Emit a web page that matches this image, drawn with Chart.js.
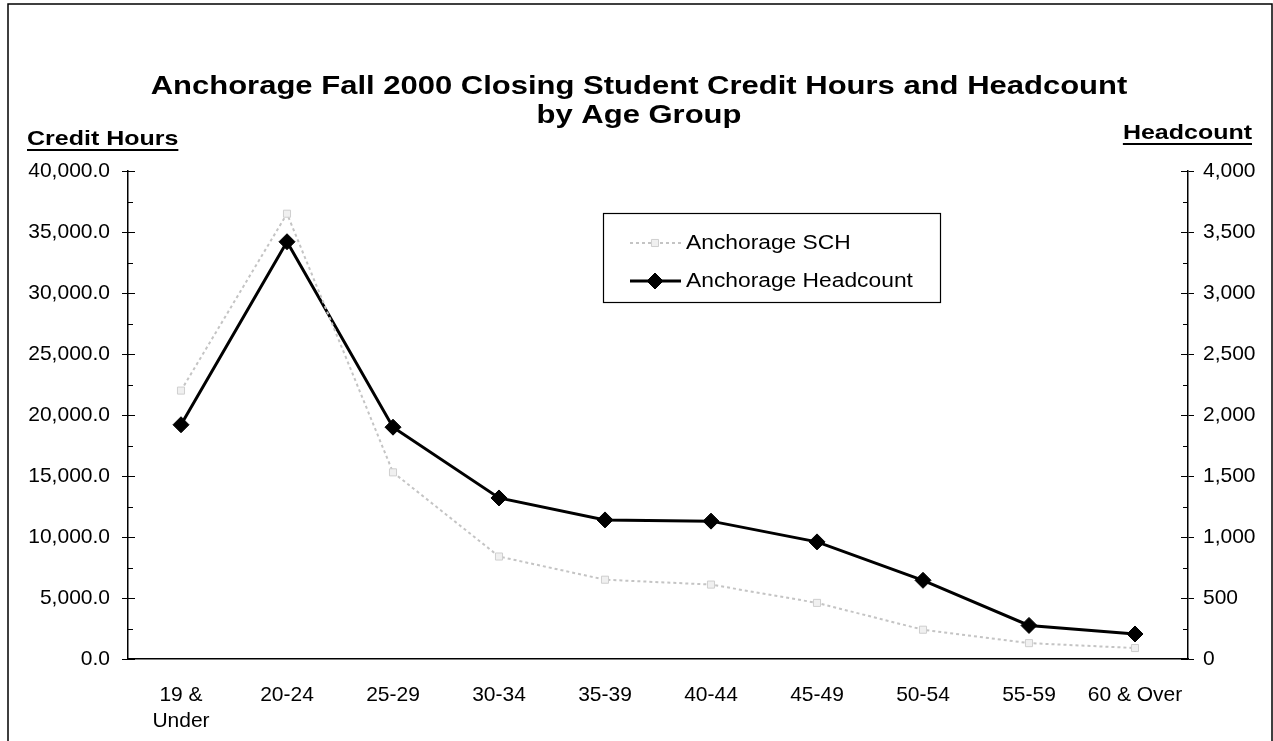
<!DOCTYPE html>
<html>
<head>
<meta charset="utf-8">
<title>Anchorage Fall 2000 Closing SCH and Headcount</title>
<script src="https://cdn.jsdelivr.net/npm/chart.js@4.4.1/dist/chart.umd.min.js"></script>
<style>
  html, body { margin: 0; padding: 0; background: #fff; }
  canvas { display: block; }
</style>
</head>
<body>
<canvas id="ageChart" width="1273" height="741"></canvas>
<script>
// Datos
const grupos = [['19 &', 'Under'], '20-24', '25-29', '30-34', '35-39', '40-44', '45-49', '50-54', '55-59', '60 & Over'];
const creditHours = [22000, 36500, 15300, 8400, 6500, 6100, 4600, 2400, 1300, 900];
const headcount = [1920, 3420, 1900, 1320, 1140, 1130, 960, 645, 275, 205];
const ticksCredit = [0, 5000, 10000, 15000, 20000, 25000, 30000, 35000, 40000];
const ticksHead = [0, 500, 1000, 1500, 2000, 2500, 3000, 3500, 4000];
const titulo = ['Anchorage Fall 2000 Closing Student Credit Hours and Headcount', 'by Age Group'];

const FUENTE = "'Liberation Sans', Arial, sans-serif";

// Texto ensanchado en horizontal (el original está escaneado algo estirado)
function textoAncho(ctx, texto, x, y, sx, align) {
  const w = ctx.measureText(texto).width * sx;
  let x0 = x;
  if (align === 'center') x0 = x - w / 2;
  if (align === 'right') x0 = x - w;
  ctx.save();
  ctx.translate(x0, y);
  ctx.scale(sx, 1);
  ctx.textAlign = 'left';
  ctx.fillText(texto, 0, 0);
  ctx.restore();
  return { x: x0, w: w };
}

// Marco, título, títulos de ejes, marcas menores y leyenda dibujados a mano
const extrasPlugin = {
  id: 'extras',
  afterDraw(chart) {
    const ctx = chart.ctx;
    const area = chart.chartArea;
    const yL = chart.scales.y;
    const yR = chart.scales.y1;
    ctx.save();

    // marco exterior
    ctx.strokeStyle = '#000';
    ctx.lineWidth = 1.5;
    ctx.strokeRect(8, 4, 1264, 745);

    // marcas hacia dentro del área (mayores y menores)
    ctx.lineWidth = 1;
    ctx.beginPath();
    for (let i = 0; i < ticksCredit.length; i++) {
      const y = Math.round(yL.getPixelForValue(ticksCredit[i])) + 0.5;
      ctx.moveTo(area.left, y);
      ctx.lineTo(area.left + 7, y);
      if (i < ticksCredit.length - 1) {
        const ym = Math.round(yL.getPixelForValue(ticksCredit[i] + 2500)) + 0.5;
        ctx.moveTo(area.left, ym);
        ctx.lineTo(area.left + 5, ym);
      }
    }
    for (let i = 0; i < ticksHead.length; i++) {
      const y = Math.round(yR.getPixelForValue(ticksHead[i])) + 0.5;
      ctx.moveTo(area.right, y);
      ctx.lineTo(area.right - 7, y);
      if (i < ticksHead.length - 1) {
        const ym = Math.round(yR.getPixelForValue(ticksHead[i] + 250)) + 0.5;
        ctx.moveTo(area.right, ym);
        ctx.lineTo(area.right - 5, ym);
      }
    }
    ctx.stroke();

    ctx.fillStyle = '#000';
    ctx.textBaseline = 'middle';

    // título principal
    ctx.font = 'bold 25px ' + FUENTE;
    textoAncho(ctx, titulo[0], 639, 87, 1.24, 'center');
    textoAncho(ctx, titulo[1], 639, 116, 1.24, 'center');

    // títulos de ejes subrayados
    ctx.font = 'bold 21px ' + FUENTE;
    const a = textoAncho(ctx, 'Credit Hours', 27, 139, 1.19, 'left');
    ctx.fillRect(a.x, 149, a.w, 2);
    const b = textoAncho(ctx, 'Headcount', 1252, 133, 1.19, 'right');
    ctx.fillRect(b.x, 143, b.w, 2);

    // leyenda
    ctx.lineWidth = 1.2;
    ctx.strokeRect(603.5, 213.5, 337, 89);
    const ds = chart.data.datasets;
    const filas = [243, 281];
    ctx.font = '20px ' + FUENTE;
    for (let i = 0; i < ds.length; i++) {
      const y = filas[i];
      ctx.strokeStyle = ds[i].borderColor;
      ctx.lineWidth = ds[i].borderWidth;
      ctx.setLineDash(ds[i].borderDash || []);
      ctx.beginPath();
      ctx.moveTo(630, y);
      ctx.lineTo(681, y);
      ctx.stroke();
      ctx.setLineDash([]);
      ctx.fillStyle = ds[i].pointBackgroundColor;
      ctx.strokeStyle = ds[i].pointBorderColor;
      ctx.lineWidth = ds[i].pointBorderWidth;
      Chart.helpers.drawPoint(ctx, {
        pointStyle: ds[i].pointStyle,
        radius: ds[i].pointRadius,
        borderWidth: ds[i].pointBorderWidth
      }, 655, y);
      ctx.fillStyle = '#000';
      textoAncho(ctx, ds[i].label, 686, y, 1.14, 'left');
    }
    ctx.restore();
  }
};

function crearGrafica() {
  const canvas = document.getElementById('ageChart');
  new Chart(canvas, {
    type: 'line',
    data: {
      labels: grupos,
      datasets: [{
        label: 'Anchorage SCH',
        data: creditHours,
        yAxisID: 'y',
        borderColor: '#c4c4c4',
        borderWidth: 2,
        borderDash: [3, 3],
        pointStyle: 'rect',
        pointRadius: 5,
        pointBackgroundColor: '#f0f0f0',
        pointBorderColor: '#cfcfcf',
        pointBorderWidth: 1,
        tension: 0
      }, {
        label: 'Anchorage Headcount',
        data: headcount,
        yAxisID: 'y1',
        borderColor: '#000',
        borderWidth: 3,
        pointStyle: 'rectRot',
        pointRadius: 8,
        pointBackgroundColor: '#000',
        pointBorderColor: '#000',
        pointBorderWidth: 1,
        tension: 0
      }]
    },
    options: {
      responsive: false,
      animation: false,
      layout: { padding: { left: 0, right: 0, top: 171, bottom: 0 } },
      plugins: {
        legend: { display: false },
        tooltip: { enabled: false },
        title: { display: false }
      },
      scales: {
        x: {
          offset: true,
          grid: { display: false },
          border: { display: true, color: '#000', width: 1.5 },
          ticks: {
            color: '#000',
            font: { family: FUENTE, size: 21 },
            padding: 16,
            maxRotation: 0,
            autoSkip: false
          },
          afterFit(scale) { scale.height = 82; }
        },
        y: {
          position: 'left',
          min: 0,
          max: 40000,
          grid: { drawOnChartArea: false, color: '#000', tickLength: 6 },
          border: { color: '#000', width: 1.5 },
          afterBuildTicks(scale) { scale.ticks = ticksCredit.map(v => ({ value: v })); },
          ticks: {
            color: '#000',
            font: { family: FUENTE, size: 21 },
            padding: 12,
            callback: v => v.toLocaleString('en-US', { minimumFractionDigits: 1, maximumFractionDigits: 1 })
          },
          afterFit(scale) { scale.width = 128; }
        },
        y1: {
          position: 'right',
          min: 0,
          max: 4000,
          grid: { drawOnChartArea: false, color: '#000', tickLength: 6 },
          border: { color: '#000', width: 1.5 },
          afterBuildTicks(scale) { scale.ticks = ticksHead.map(v => ({ value: v })); },
          ticks: {
            color: '#000',
            font: { family: FUENTE, size: 21 },
            padding: 9,
            callback: v => v.toLocaleString('en-US')
          },
          afterFit(scale) { scale.width = 85; }
        }
      }
    },
    plugins: [extrasPlugin]
  });
}

window.addEventListener('DOMContentLoaded', () => {
  crearGrafica();
});
</script>
</body>
</html>
